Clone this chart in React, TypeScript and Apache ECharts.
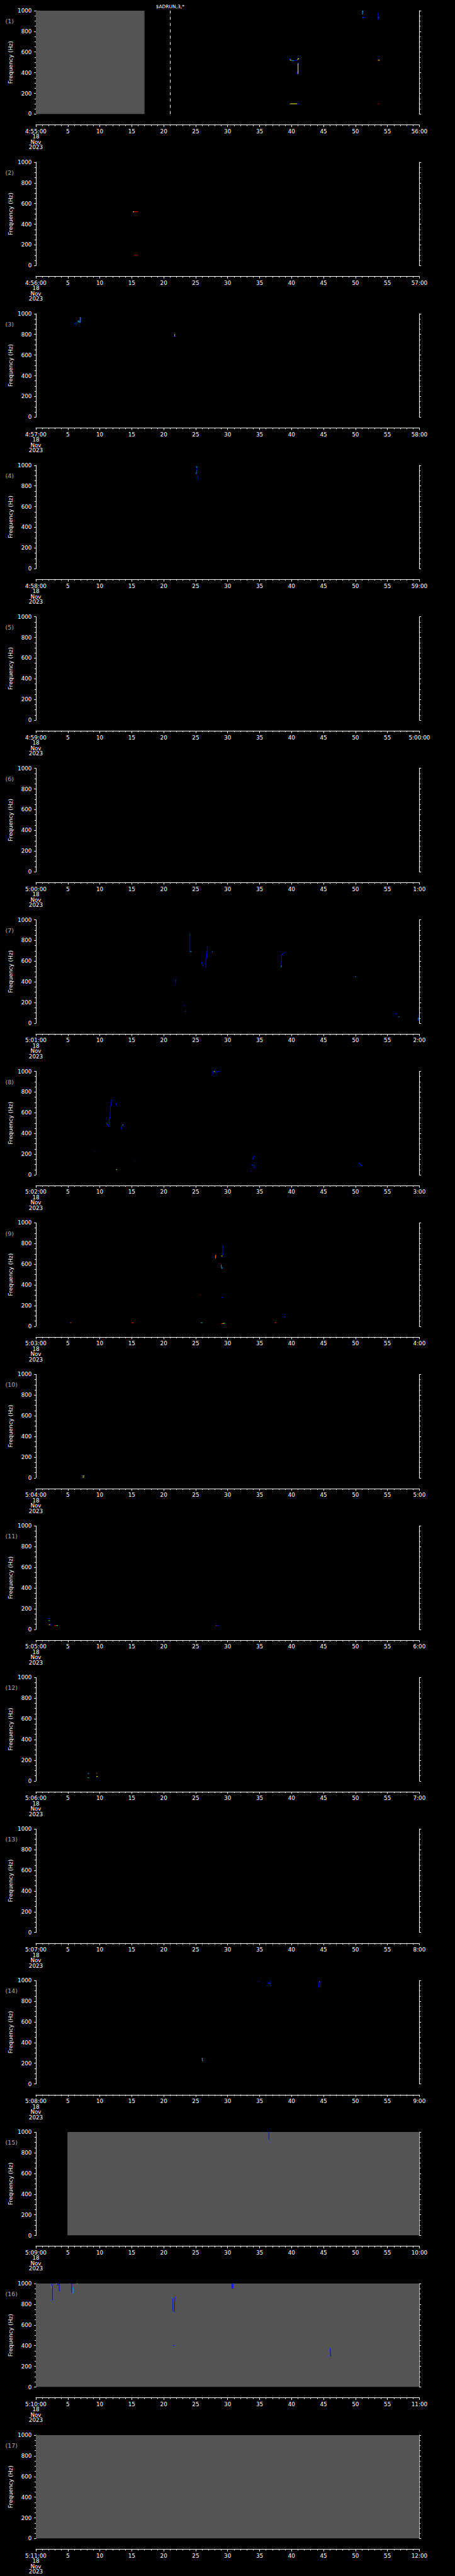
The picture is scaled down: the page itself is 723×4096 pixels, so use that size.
import React, { useEffect, useRef } from 'react';
import * as echarts from 'echarts';

const W = 723;
const H = 4096;
const S = 4096 / 5802;

// ---- data ----
const startLabels = ['4:55:00', '4:56:00', '4:57:00', '4:58:00', '4:59:00', '5:00:00', '5:01:00', '5:02:00', '5:03:00', '5:04:00', '5:05:00', '5:06:00', '5:07:00', '5:08:00', '5:09:00', '5:10:00', '5:11:00'];
const endLabels = ['56:00', '57:00', '58:00', '59:00', '5:00:00', '1:00', '2:00', '3:00', '4:00', '5:00', '6:00', '7:00', '8:00', '9:00', '10:00', '11:00', '12:00'];
const dateLines = ['18', 'Nov', '2023'];
const secMin = 0;
const secMax = 60;
const secStep = 5;
const freqMin = 0;
const freqMax = 1000;
const freqStep = 200;
const yName = 'Frequency (Hz)';

// grey "no data" blocks: [panel, t0, t1]
const greyBlocks: [number, number, number][] = [[0, 0, 17], [14, 4.95, 60], [15, 0, 60], [16, 0, 60]];
const markerPanel = 0;
const markerTime = 21;
const markerText = '$ADRUN,3,*';

const palette: Record<string, string> = {
  B: '#0000ff', D: '#0000b4', C: '#00a8ff', G: '#50ff70', Y: '#ffff00', O: '#ff8c00', R: '#ff1010', M: '#a00000',
};

type Trace = [string, number[][]];

const panel01: Trace[] = [
  ['B', [[39.68, 536], [39.75, 523]]],
  ['Y', [[39.75, 523], [40.0, 520]]],
  ['C', [[40.0, 519], [40.4, 516]]],
  ['B', [[40.4, 516], [40.75, 520], [40.9, 524]]],
  ['Y', [[40.9, 524], [41.0, 528], [41.0, 536], [41.2, 536]]],
  ['C', [[41.0, 490], [41.12, 490]]],
  ['Y', [[41.02, 490], [41.02, 387]]],
  ['B', [[40.85, 405], [40.85, 390], [40.95, 387], [41.02, 387]]],
  ['Y', [[39.72, 95], [39.85, 100], [40.9, 100]]],
  ['B', [[40.9, 100], [41.2, 94]]],
  ['C', [[51.1, 963], [51.1, 1000], [51.2, 985]]],
  ['B', [[51.08, 934], [51.5, 934]]],
  ['C', [[51.08, 931], [51.2, 936]]],
  ['B', [[53.48, 977], [53.55, 977], [53.55, 910]]],
  ['C', [[53.55, 931], [53.72, 934]]],
  ['R', [[53.44, 518], [53.55, 521]]],
  ['Y', [[53.55, 521], [53.8, 521]]],
  ['M', [[53.44, 100], [53.8, 100]]],
];
const panel02: Trace[] = [
  ['Y', [[15.25, 515], [15.25, 522], [15.38, 521]]],
  ['R', [[15.38, 521], [16.0, 521]]],
  ['M', [[15.35, 101], [16.0, 101]]],
];
const panel03: Trace[] = [
  ['B', [[6.1, 893], [6.1, 910], [6.35, 910], [6.35, 893]]],
  ['B', [[6.45, 905], [6.6, 915]]],
  ['C', [[6.6, 915], [6.6, 930], [6.8, 930], [6.8, 915]]],
  ['C', [[6.93, 912], [6.93, 968]]],
  ['B', [[7.1, 915], [7.1, 962], [7.17, 955]]],
  ['O', [[21.72, 778], [21.72, 802], [21.82, 802]]],
];
const panel04: Trace[] = [
  ['C', [[25.05, 986], [25.2, 986], [25.2, 975]]],
  ['B', [[25.2, 975], [25.2, 950]]],
  ['C', [[25.1, 946], [25.22, 946]]],
  ['C', [[25.1, 914], [25.1, 930], [25.2, 930]]],
  ['D', [[25.3, 914], [25.32, 858]]],
];
const panel05: Trace[] = [];
const panel06: Trace[] = [];
const panel07: Trace[] = [
  ['B', [[24.1, 869], [24.1, 693]]],
  ['C', [[24.1, 693], [24.37, 693]]],
  ['B', [[25.9, 591], [26.0, 578], [26.05, 565], [26.17, 561]]],
  ['B', [[26.5, 539], [26.6, 539], [26.6, 629], [26.7, 629], [26.7, 693], [26.85, 693], [26.85, 741]]],
  ['C', [[27.55, 693], [27.65, 693]]],
  ['C', [[38.3, 538], [38.4, 545], [38.4, 560]]],
  ['B', [[38.4, 560], [38.45, 660], [38.6, 668], [38.75, 683]]],
  ['C', [[49.95, 452], [50.1, 450]]],
  ['B', [[21.84, 380], [21.88, 392], [21.92, 425], [22.0, 431]]],
  ['B', [[23.14, 174], [23.3, 165]]],
  ['C', [[23.35, 115], [23.45, 115]]],
  ['B', [[56.25, 93], [56.4, 93], [56.5, 82]]],
  ['C', [[56.7, 62], [56.86, 64]]],
  ['B', [[59.78, 73], [59.9, 73]]],
  ['C', [[59.85, 30], [59.85, 55]]],
  ['B', [[59.78, 30], [59.95, 30]]],
];
const panel08: Trace[] = [
  ['B', [[27.7, 975], [27.7, 998], [27.85, 998]]],
  ['Y', [[27.85, 998], [28.0, 998]]],
  ['G', [[28.0, 998], [28.1, 992]]],
  ['B', [[28.2, 975], [28.3, 998], [28.8, 998]]],
  ['C', [[11.08, 500], [11.15, 490]]],
  ['B', [[11.15, 490], [11.25, 476], [11.38, 467], [11.45, 467], [11.5, 547], [11.6, 547], [11.68, 667], [11.78, 667], [11.84, 730]]],
  ['B', [[12.5, 694], [12.58, 680], [12.64, 666]]],
  ['B', [[13.33, 440], [13.4, 460], [13.5, 480]]],
  ['C', [[13.5, 480], [13.72, 486]]],
  ['B', [[9.15, 220], [9.25, 226]]],
  ['B', [[15.48, 130], [15.56, 130]]],
  ['G', [[12.55, 51], [12.7, 51]]],
  ['B', [[33.85, 147], [33.95, 150], [34.0, 176], [34.3, 176]]],
  ['B', [[33.7, 96], [34.1, 96], [34.15, 80], [34.2, 67], [34.3, 67]]],
  ['B', [[33.6, 35], [33.75, 35]]],
  ['B', [[50.5, 118], [50.6, 112], [50.75, 95], [50.9, 90], [51.07, 90]]],
];
const panel09: Trace[] = [
  ['B', [[29.23, 680], [29.23, 783]]],
  ['Y', [[29.0, 680], [29.2, 680]]],
  ['O', [[28.1, 657], [28.1, 686], [28.24, 686]]],
  ['C', [[29.0, 596], [29.02, 570], [29.1, 558], [29.2, 570]]],
  ['R', [[25.65, 304], [25.75, 304]]],
  ['B', [[29.1, 272], [29.1, 278], [29.3, 278]]],
  ['B', [[38.8, 94], [39.0, 86]]],
  ['B', [[5.3, 34], [5.4, 34]]],
  ['O', [[5.4, 34], [5.5, 34]]],
  ['R', [[14.95, 34], [15.3, 34]]],
  ['C', [[25.8, 34], [25.95, 34]]],
  ['G', [[25.95, 34], [26.05, 34]]],
  ['R', [[37.4, 34], [37.6, 34]]],
  ['R', [[29.0, 27], [29.2, 27]]],
  ['Y', [[29.2, 27], [29.35, 29]]],
  ['G', [[29.35, 29], [29.6, 29]]],
];
const panel10: Trace[] = [
  ['G', [[7.28, 18], [7.4, 18]]],
  ['Y', [[7.4, 18], [7.6, 18]]],
  ['Y', [[7.35, 2], [7.42, 9], [7.5, 2]]],
];
const panel11: Trace[] = [
  ['B', [[2.0, 106], [2.25, 106]]],
  ['G', [[2.0, 85], [2.2, 85]]],
  ['O', [[2.0, 44], [2.1, 44]]],
  ['Y', [[2.1, 44], [2.25, 44]]],
  ['B', [[2.25, 44], [2.4, 42], [2.45, 37]]],
  ['R', [[2.9, 37], [3.2, 37]]],
  ['G', [[3.2, 37], [3.45, 37]]],
  ['B', [[28.1, 58], [28.2, 58]]],
  ['R', [[28.1, 37], [28.3, 37]]],
  ['B', [[28.3, 37], [28.7, 37]]],
];
const panel12: Trace[] = [
  ['C', [[8.12, 72], [8.35, 72]]],
  ['Y', [[8.12, 32], [8.2, 32]]],
  ['C', [[8.2, 30], [8.35, 30]]],
  ['O', [[9.48, 75], [9.55, 75], [9.55, 70]]],
  ['Y', [[9.45, 42], [9.7, 42]]],
];
const panel13: Trace[] = [];
const panel14: Trace[] = [
  ['B', [[34.8, 990], [34.95, 982]]],
  ['B', [[36.3, 975], [36.65, 975]]],
  ['B', [[36.65, 995], [36.7, 995], [36.7, 945]]],
  ['B', [[44.25, 930], [44.3, 985], [44.5, 990], [44.55, 935]]],
  ['C', [[44.3, 985], [44.4, 990]]],
  ['C', [[26.0, 253], [26.05, 225], [26.2, 223]]],
];
const panel15: Trace[] = [
  ['C', [[36.3, 1000], [36.38, 995]]],
  ['B', [[36.38, 998], [36.45, 997], [36.45, 924]]],
];
const panel16: Trace[] = [
  ['C', [[2.4, 955], [2.4, 1000]]],
  ['B', [[2.48, 1000], [2.48, 976], [2.6, 976], [2.6, 840], [2.72, 848]]],
  ['Y', [[3.2, 997], [3.3, 997]]],
  ['B', [[3.3, 997], [3.42, 983], [3.55, 997], [3.66, 997], [3.66, 929], [3.75, 929]]],
  ['C', [[5.25, 1000], [5.35, 997]]],
  ['B', [[5.6, 1000], [5.6, 920], [5.7, 912], [5.77, 912]]],
  ['C', [[5.8, 905], [5.85, 905], [5.85, 962]]],
  ['G', [[6.4, 995], [6.5, 1000]]],
  ['C', [[21.2, 866], [21.35, 862]]],
  ['B', [[21.35, 862], [21.44, 856], [21.44, 734], [21.55, 730]]],
  ['C', [[21.55, 728], [21.63, 726]]],
  ['B', [[21.63, 726], [21.7, 726], [21.7, 798], [21.75, 798], [21.78, 869]]],
  ['B', [[21.44, 403], [21.7, 403]]],
  ['B', [[30.7, 1000], [30.7, 955], [30.85, 955], [30.85, 1000]]],
  ['C', [[30.85, 1000], [30.95, 1000]]],
  ['B', [[46.05, 377], [46.1, 377], [46.1, 299], [46.2, 299]]],
];
const panel17: Trace[] = [];

const panels: Trace[][] = [panel01, panel02, panel03, panel04, panel05, panel06, panel07, panel08, panel09, panel10, panel11, panel12, panel13, panel14, panel15, panel16, panel17];

// ---- layout (reference px, scaled by S) ----
const PITCH = 341.29;
const TOP0 = 24;
const PLOT_LEFT = 80.7;
const PLOT_W = 863.3;
const PLOT_H = 233;
const XAXIS_GAP = 24.3;
const FONT = 'DejaVu Sans';

function buildOption() {
  const grid: any[] = [];
  const xAxis: any[] = [];
  const yAxis: any[] = [];
  const series: any[] = [];
  const graphic: any[] = [];
  const white = '#ffffff';

  panels.forEach((traces, k) => {
    const topRef = TOP0 + k * PITCH;
    grid.push({ left: PLOT_LEFT * S, top: topRef * S, width: PLOT_W * S, height: PLOT_H * S, containLabel: false });
    xAxis.push({
      gridIndex: k, type: 'value', min: secMin, max: secMax, interval: secStep,
      offset: XAXIS_GAP * S,
      axisLine: { show: true, onZero: false, lineStyle: { color: white, width: 1 } },
      axisTick: { show: true, length: 3.3, lineStyle: { color: white, width: 1 } },
      minorTick: { show: true, splitNumber: 5, length: 1.9, lineStyle: { color: white, width: 1 } },
      splitLine: { show: false },
      axisLabel: {
        color: white, fontSize: 8.8, fontFamily: FONT, lineHeight: 8.5, margin: 6,
        formatter: (v: number) => (v === secMin ? [startLabels[k], ...dateLines].join('\n') : v === secMax ? endLabels[k] : String(v)),
      },
    });
    const yBase = {
      gridIndex: k, type: 'value', min: freqMin, max: freqMax, interval: freqStep,
      axisLine: { show: true, onZero: false, lineStyle: { color: white, width: 1 } },
      axisTick: { show: true, length: 2.8, lineStyle: { color: white, width: 1 } },
      minorTick: { show: true, splitNumber: 4, length: 1.9, lineStyle: { color: white, width: 1 } },
      splitLine: { show: false },
    };
    yAxis.push({ ...yBase, position: 'left', axisLabel: { color: white, fontSize: 8.8, fontFamily: FONT, margin: 6.5, formatter: (v: number) => String(v) } });
    yAxis.push({ ...yBase, position: 'right', axisLabel: { show: false } });

    greyBlocks.filter((g) => g[0] === k).forEach((g) => {
      series.push({
        type: 'line', xAxisIndex: k, yAxisIndex: 2 * k, silent: true, z: 1,
        data: [[g[1], freqMax], [g[2], freqMax]], symbol: 'none',
        lineStyle: { width: 0, opacity: 0 },
        areaStyle: { color: '#545454', opacity: 1 },
      });
    });

    if (k === markerPanel) {
      series.push({
        type: 'line', xAxisIndex: k, yAxisIndex: 2 * k, silent: true, z: 2,
        data: [[markerTime, -100]], symbol: 'none', lineStyle: { width: 0, opacity: 0 },
        markLine: {
          silent: true, symbol: ['none', 'none'], animation: false,
          lineStyle: { color: white, width: 1, type: [4.7, 5.3] },
          label: { show: true, position: 'end', formatter: markerText, color: white, fontSize: 7.5, fontFamily: FONT, distance: 2 },
          data: [{ xAxis: markerTime }],
        },
      });
    }

    traces.forEach(([c, pts]) => {
      series.push({
        type: 'line', xAxisIndex: k, yAxisIndex: 2 * k, silent: true, z: 3,
        data: pts, symbol: 'none', showSymbol: false,
        lineStyle: { color: palette[c], width: 1 },
      });
    });

    graphic.push({
      type: 'text', x: 8.5, y: (topRef + 23.5) * S,
      style: { text: `(${k + 1})`, fill: '#aaaaaa', font: `9.5px ${FONT}`, verticalAlign: 'middle', align: 'left' },
    });
    graphic.push({
      type: 'text', x: 16.6, y: (topRef + 116.5) * S, rotation: Math.PI / 2,
      style: { text: yName, fill: white, font: `9px ${FONT}`, align: 'center', verticalAlign: 'middle' },
    });
  });

  return {
    animation: false,
    backgroundColor: '#000000',
    grid, xAxis, yAxis, series, graphic,
  };
}

export default function App() {
  const ref = useRef<HTMLDivElement>(null);
  useEffect(() => {
    document.body.style.margin = '0';
    document.body.style.background = '#000';
    if (!ref.current) return;
    const chart = echarts.init(ref.current, undefined, { renderer: 'svg', width: W, height: H });
    chart.setOption(buildOption() as any);
    return () => chart.dispose();
  }, []);
  return <div ref={ref} style={{ width: W, height: H, background: '#000' }} />;
}
